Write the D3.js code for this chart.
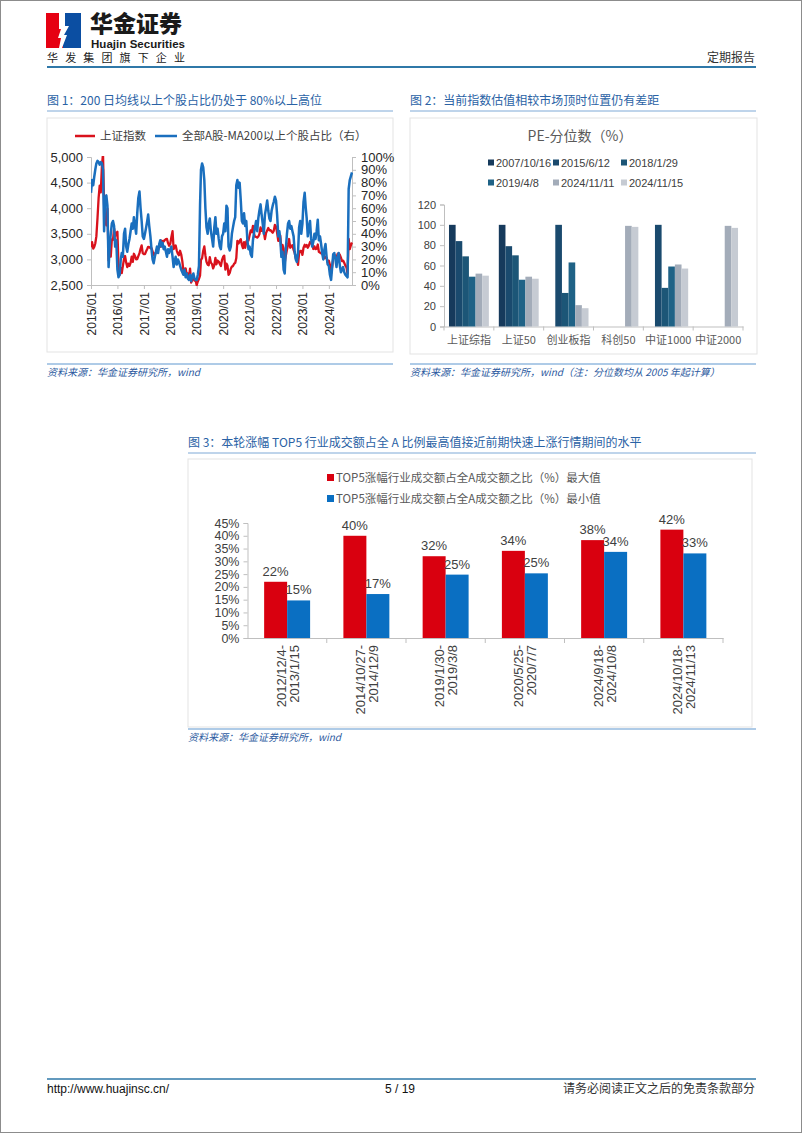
<!DOCTYPE html>
<html><head><meta charset="utf-8">
<script src="https://cdn.jsdelivr.net/npm/d3@7/dist/d3.min.js"></script>
<style>
html,body{margin:0;padding:0;background:#fff;}
svg{display:block;}
</style></head><body>
<svg id="page" width="802" height="1133"></svg>
<script>
// ---------------- DATA ----------------
// Figure 1: semi-monthly samples (1st and 16th of each month) from 2015/01 to 2024/11
const fig1Legend = ["上证指数", "全部A股-MA200以上个股占比（右）"];
const fig1LeftTicks = [2500, 3000, 3500, 4000, 4500, 5000];
const fig1RightTicks = [0, 10, 20, 30, 40, 50, 60, 70, 80, 90, 100];
const fig1YearTicks = [2015, 2016, 2017, 2018, 2019, 2020, 2021, 2022, 2023, 2024];
const shIndex = [
  3235,3336,3210,3247,3310,3449,3810,4195,4441,4308,4829,5062,4053,3823,3664,3993,2980,3152,3053,3391,3383,3606,3456,3516,
  3539,2901,2700,2836,2733,2870,3009,3066,2938,2850,2916,2873,2932,3054,2953,3110,3063,3002,3005,3064,3122,3205,3273,3123,
  3104,3103,3159,3202,3246,3241,3223,3222,3155,3090,3117,3123,3192,3176,3292,3246,3367,3353,3349,3378,3395,3399,3317,3267,
  3307,3437,3550,3199,3259,3270,3168,3110,3082,3169,3095,2966,2775,2814,2824,2705,2725,2651,2821,2546,2603,2679,2588,2594,
  2494,2570,2618,2682,2994,3021,3170,3253,3078,2955,2898,2887,3044,2937,2908,2824,2886,3031,2905,2978,2958,2909,2871,2985,
  3050,3074,2800,2917,2880,2700,2735,2819,2860,2869,2915,2931,3025,3361,3310,3360,3395,3283,3218,3336,3225,3346,3391,3367,
  3473,3566,3533,3655,3509,3446,3441,3426,3447,3490,3624,3557,3589,3539,3397,3517,3567,3613,3568,3573,3545,3521,3562,3675,
  3640,3521,3361,3465,3462,3170,3282,3211,2930,3073,3186,3285,3398,3228,3259,3277,3185,3126,3024,3071,2893,3120,3165,3167,
  3089,3228,3285,3250,3280,3227,3273,3339,3323,3290,3204,3255,3202,3209,3291,3150,3133,3117,3110,3073,3023,3050,3031,2942,
  2975,2894,2730,2866,3015,3054,3077,3007,3105,3120,3087,3033,2968,2976,2932,2880,2842,2720,3400,3200,3280,3330
];
const ma200Share = [
  72,82,78,85,90,95,97,96,94,96,95,90,42,68,70,62,14,30,40,48,50,46,30,35,
  12,6,8,20,25,22,40,44,30,26,32,36,42,48,44,53,46,40,56,68,73,60,50,38,
  36,40,45,50,55,46,38,28,20,17,22,26,30,25,32,35,30,33,28,30,26,22,28,25,
  28,30,22,14,18,22,16,20,18,15,12,10,8,12,6,9,5,4,8,3,7,9,5,4,
  4,8,15,62,90,95,92,82,60,45,40,48,52,42,36,30,45,53,40,44,36,30,28,38,
  40,48,42,62,60,30,27,30,40,45,50,53,78,82,76,80,66,50,48,56,46,50,35,28,
  30,24,22,35,40,45,50,42,52,58,63,55,48,40,55,60,66,58,52,50,58,62,65,69,
  66,55,38,42,36,22,26,12,9,28,40,48,50,44,46,42,38,26,20,18,25,45,50,40,
  48,65,72,60,52,38,45,50,36,30,34,40,36,42,51,35,38,32,25,20,28,32,22,16,
  15,8,4,14,24,25,20,14,22,25,15,10,12,14,10,8,7,6,75,82,85,88
];

// Figure 2: PE percentile
const peCategories = ["上证综指", "上证50", "创业板指", "科创50", "中证1000", "中证2000"];
const peSeries = ["2007/10/16", "2015/6/12", "2018/1/29", "2019/4/8", "2024/11/11", "2024/11/15"];
const pe_20071016 = [100, 100, null, null, null, null];
const pe_20150612 = [84, 79, 100, null, 100, null];
const pe_20180129 = [69, 70, 33, null, 38, null];
const pe_20190408 = [49, 46, 63, null, 59, null];
const pe_20241111 = [52, 49, 21, 99, 61, 99];
const pe_20241115 = [50, 47, 18, 98, 57, 97];
const peTicks = [0, 20, 40, 60, 80, 100, 120];

// Figure 3: TOP5 industries turnover share
const fig3Periods = [["2012/12/4-", "2013/1/15"], ["2014/10/27-", "2014/12/9"], ["2019/1/30-", "2019/3/8"],
                     ["2020/5/25-", "2020/7/7"], ["2024/9/18-", "2024/10/8"], ["2024/10/18-", "2024/11/13"]];
const fig3Legend = ["TOP5涨幅行业成交额占全A成交额之比（%）最大值", "TOP5涨幅行业成交额占全A成交额之比（%）最小值"];
const top5Max = [22.0, 40.0, 32.0, 34.1, 38.3, 42.4];
const top5Min = [14.7, 17.2, 24.8, 25.3, 33.7, 33.1];
const fig3Ticks = [0, 5, 10, 15, 20, 25, 30, 35, 40, 45];

// ---------------- STYLE ----------------
const CJK = '"Noto Sans CJK SC", "Liberation Sans", sans-serif';
const LAT = '"Liberation Sans", Arial, "Noto Sans CJK SC", sans-serif';
const AXIS = "#bfbfbf";
const svg = d3.select("#page");

svg.append("rect").attr("x", 0.5).attr("y", 0.5).attr("width", 801).attr("height", 1132)
  .attr("fill", "#fff").attr("stroke", "#8c8c8c");

// ---------------- HEADER ----------------
const logo = svg.append("g").attr("transform", "translate(46,13)");
logo.append("rect").attr("width", 17).attr("height", 35).attr("fill", "#e60012");
logo.append("rect").attr("x", 17).attr("width", 18).attr("height", 35).attr("fill", "#0b4ea2");
logo.append("path").attr("d", "M13,0 L19,0 L19,13 L23,13 L18,22 L21,22 L16,35 L13,35 L15,25 L12,25 L15,16 L13,16 Z")
  .attr("fill", "#fff");
svg.append("text").attr("x", 90).attr("y", 32).text("华金证券")
  .style("font-family", CJK).style("font-weight", 900).style("font-size", "23px").attr("fill", "#1a1a1a");
svg.append("text").attr("x", 91).attr("y", 48).text("Huajin Securities").attr("textLength", 94)
  .style("font-family", LAT).style("font-weight", "bold").style("font-size", "11.5px").attr("fill", "#1a1a1a");
svg.append("text").attr("x", 47).attr("y", 62).text("华发集团旗下企业").attr("textLength", 138)
  .style("font-family", CJK).style("font-size", "11px").attr("fill", "#1a1a1a");
svg.append("text").attr("x", 755).attr("y", 62).attr("text-anchor", "end").text("定期报告")
  .style("font-family", CJK).style("font-size", "12px").attr("fill", "#333");
svg.append("line").attr("x1", 47).attr("x2", 756).attr("y1", 67).attr("y2", 67)
  .attr("stroke", "#2f78a8").attr("stroke-width", 2);

// figure titles / sources
function figTitle(x, y, x2, txt) {
  svg.append("text").attr("x", x).attr("y", y).text(txt)
    .style("font-family", CJK).style("font-size", "12px").attr("fill", "#2a62a5");
  svg.append("line").attr("x1", x).attr("x2", x2).attr("y1", y + 6).attr("y2", y + 6)
    .attr("stroke", "#7fa9d6").attr("stroke-width", 1);
}
function figSource(x, y, x2, txt) {
  svg.append("line").attr("x1", x).attr("x2", x2).attr("y1", y - 12).attr("y2", y - 12)
    .attr("stroke", "#5e97cf").attr("stroke-width", 1);
  svg.append("text").attr("x", x).attr("y", y).text(txt)
    .style("font-family", CJK).style("font-size", "10px").style("font-style", "italic").attr("fill", "#2c5aa0");
}
figTitle(47, 105, 393, "图 1：200 日均线以上个股占比仍处于 80%以上高位");
figTitle(410, 105, 756, "图 2：当前指数估值相较市场顶时位置仍有差距");
figSource(47, 376, 393, "资料来源：华金证券研究所，wind");
figSource(410, 376, 756, "资料来源：华金证券研究所，wind（注：分位数均从 2005 年起计算）");
figTitle(188, 447, 756, "图 3：本轮涨幅 TOP5 行业成交额占全 A 比例最高值接近前期快速上涨行情期间的水平");
figSource(188, 741, 756, "资料来源：华金证券研究所，wind");

// chart frames
svg.append("rect").attr("x", 47).attr("y", 118).attr("width", 346).attr("height", 234).attr("fill", "none").attr("stroke", "#e3e3e3");
svg.append("rect").attr("x", 410).attr("y", 118).attr("width", 347).attr("height", 236).attr("fill", "none").attr("stroke", "#e3e3e3");
svg.append("rect").attr("x", 188).attr("y", 459).attr("width", 564).attr("height", 268).attr("fill", "none").attr("stroke", "#e3e3e3");

function styleAxis(g) {
  g.selectAll(".domain").attr("stroke", AXIS);
  g.selectAll(".tick line").attr("stroke", AXIS);
}

// ---------------- FIGURE 1 ----------------
const fig1Dates = shIndex.map((_, i) => new Date(2015 + Math.floor(i / 24), Math.floor((i % 24) / 2), i % 2 ? 16 : 1));
const x1 = d3.scaleTime().domain([new Date(2015, 0, 1), new Date(2024, 10, 16)]).range([91, 352]);
const y1L = d3.scaleLinear().domain([2500, 5000]).range([285, 157]);
const y1R = d3.scaleLinear().domain([0, 100]).range([285, 157]);

const gL = svg.append("g").attr("transform", "translate(91,0)")
  .call(d3.axisLeft(y1L).tickValues(fig1LeftTicks).tickFormat(d3.format(",")).tickSize(4).tickPadding(4));
gL.selectAll("text").style("font-family", LAT).style("font-size", "13px").attr("fill", "#262626");
styleAxis(gL);
const gR = svg.append("g").attr("transform", "translate(352,0)")
  .call(d3.axisRight(y1R).tickValues(fig1RightTicks).tickFormat(d => d + "%").tickSize(4).tickPadding(5));
gR.selectAll("text").style("font-family", LAT).style("font-size", "13px").attr("fill", "#262626");
styleAxis(gR);
const gB = svg.append("g").attr("transform", "translate(0,285)")
  .call(d3.axisBottom(x1).tickValues(fig1YearTicks.map(y => new Date(y, 0, 1)))
    .tickFormat(d3.timeFormat("%Y/%m")).tickSize(4).tickSizeOuter(0));
gB.selectAll("text").attr("transform", "rotate(-90)").attr("text-anchor", "end")
  .attr("x", -7).attr("y", 0).attr("dy", "0.35em")
  .style("font-family", LAT).style("font-size", "12px").attr("fill", "#262626");
styleAxis(gB);

svg.append("clipPath").attr("id", "clip1").append("rect").attr("x", 91).attr("y", 156).attr("width", 262).attr("height", 130);
const lineL = d3.line().x((d, i) => x1(fig1Dates[i])).y(d => y1L(d));
const lineR = d3.line().x((d, i) => x1(fig1Dates[i])).y(d => y1R(d));
svg.append("path").datum(shIndex).attr("d", lineL).attr("fill", "none").attr("stroke", "#d9121c")
  .attr("stroke-width", 2.3).attr("stroke-linejoin", "round").attr("clip-path", "url(#clip1)");
svg.append("path").datum(ma200Share).attr("d", lineR).attr("fill", "none").attr("stroke", "#1a6fbe")
  .attr("stroke-width", 2.5).attr("stroke-linejoin", "round").attr("clip-path", "url(#clip1)");

const lg1 = svg.append("g");
[[75, 95, 100, "#d9121c"], [155, 177, 182, "#1a6fbe"]].forEach((p, i) => {
  lg1.append("line").attr("x1", p[0]).attr("x2", p[1]).attr("y1", 136).attr("y2", 136)
    .attr("stroke", p[3]).attr("stroke-width", 2.5);
  lg1.append("text").attr("x", p[2]).attr("y", 140).text(fig1Legend[i])
    .style("font-family", CJK).style("font-size", "11.5px").attr("fill", "#404040");
});

// ---------------- FIGURE 2 ----------------
const peColors = ["#163a5c", "#1a4a6e", "#1c5677", "#1f6286", "#a3acb9", "#c6cbd3"];
const peValues = [pe_20071016, pe_20150612, pe_20180129, pe_20190408, pe_20241111, pe_20241115];
const x2 = d3.scaleBand().domain(peCategories).range([444, 743]);
const bw2 = x2.bandwidth();
const x2s = d3.scaleBand().domain(peSeries).range([bw2 * 0.1, bw2 * 0.9]);
const y2 = d3.scaleLinear().domain([0, 120]).range([326.5, 204.5]);

svg.append("text").attr("x", 580).attr("y", 141).attr("text-anchor", "middle").text("PE-分位数（%）")
  .style("font-family", CJK).style("font-size", "14px").attr("fill", "#595959");
const lg2 = svg.append("g");
peSeries.forEach((s, i) => {
  const col = i % 3, row = Math.floor(i / 3);
  const lx = [488, 553, 621][col], ly = 163 + row * 20;
  lg2.append("rect").attr("x", lx).attr("y", ly - 3.5).attr("width", 6).attr("height", 6).attr("fill", peColors[i]);
  lg2.append("text").attr("x", lx + 8).attr("y", ly + 4).text(s)
    .style("font-family", LAT).style("font-size", "11px").attr("fill", "#404040");
});

const g2L = svg.append("g").attr("transform", "translate(444,0)")
  .call(d3.axisLeft(y2).tickValues(peTicks).tickSize(4).tickPadding(4));
g2L.selectAll("text").style("font-family", LAT).style("font-size", "11px").attr("fill", "#404040");
styleAxis(g2L);
const g2B = svg.append("g").attr("transform", "translate(0,326.5)")
  .call(d3.axisBottom(x2).tickSize(0).tickPadding(10));
g2B.selectAll("text").style("font-family", CJK).style("font-size", "11px").attr("fill", "#595959");
styleAxis(g2B);
const bounds2 = peCategories.map(c => x2(c)).concat([x2.range()[1]]);
g2B.selectAll(".boundary").data(bounds2).enter().append("line")
  .attr("x1", d => d).attr("x2", d => d).attr("y1", 0).attr("y2", 4).attr("stroke", AXIS);

peSeries.forEach((s, si) => {
  const rows = peValues[si].map((v, i) => ({ cat: peCategories[i], v: v })).filter(d => d.v != null);
  svg.append("g").selectAll("rect").data(rows).enter().append("rect")
    .attr("x", d => x2(d.cat) + x2s(s))
    .attr("width", x2s.bandwidth())
    .attr("y", d => y2(d.v)).attr("height", d => y2(0) - y2(d.v))
    .attr("fill", peColors[si]);
});

// ---------------- FIGURE 3 ----------------
const periodKeys = fig3Periods.map(p => p.join(""));
const x3 = d3.scaleBand().domain(periodKeys).range([247.5, 723]);
const bw3 = x3.bandwidth();
const x3s = d3.scaleBand().domain(["max", "min"]).range([bw3 * 0.21, bw3 * 0.79]);
const y3 = d3.scaleLinear().domain([0, 45]).range([638, 523]);
const c3 = { max: "#d9000f", min: "#0a6fc2" };

const lg3 = svg.append("g");
fig3Legend.forEach((t, i) => {
  const ly = 478 + i * 21;
  lg3.append("rect").attr("x", 327).attr("y", ly - 4).attr("width", 7).attr("height", 7).attr("fill", i ? c3.min : c3.max);
  lg3.append("text").attr("x", 336).attr("y", ly + 4).text(t)
    .style("font-family", CJK).style("font-size", "11.5px").attr("fill", "#595959");
});

const g3L = svg.append("g").attr("transform", "translate(247.5,0)")
  .call(d3.axisLeft(y3).tickValues(fig3Ticks).tickFormat(d => d + "%").tickSize(4).tickPadding(4));
g3L.selectAll("text").style("font-family", LAT).style("font-size", "12.5px").attr("fill", "#404040");
styleAxis(g3L);
const g3B = svg.append("g").attr("transform", "translate(0,638)")
  .call(d3.axisBottom(x3).tickSize(0).tickFormat(""));
styleAxis(g3B);
g3B.selectAll(".boundary").data(periodKeys).enter().append("line")
  .attr("x1", d => x3(d) + bw3).attr("x2", d => x3(d) + bw3)
  .attr("y1", 0).attr("y2", 5).attr("stroke", AXIS);
fig3Periods.forEach((p, i) => {
  const cx = x3(periodKeys[i]) + bw3 / 2;
  p.forEach((line, li) => {
    svg.append("text").attr("transform", `translate(${cx + (li ? 7 : -6)},645) rotate(-90)`)
      .attr("text-anchor", "end").attr("dy", "0.35em").text(line)
      .style("font-family", LAT).style("font-size", "13px").attr("fill", "#404040");
  });
});

[["max", top5Max], ["min", top5Min]].forEach(([k, vals]) => {
  const g = svg.append("g");
  g.selectAll("rect").data(vals).enter().append("rect")
    .attr("x", (d, i) => x3(periodKeys[i]) + x3s(k)).attr("width", x3s.bandwidth())
    .attr("y", d => y3(d)).attr("height", d => y3(0) - y3(d)).attr("fill", c3[k]);
  g.selectAll("text").data(vals).enter().append("text")
    .attr("x", (d, i) => x3(periodKeys[i]) + x3s(k) + x3s.bandwidth() / 2)
    .attr("y", d => y3(d) - 6).attr("text-anchor", "middle")
    .text(d => Math.round(d) + "%")
    .style("font-family", LAT).style("font-size", "13px").attr("fill", "#404040");
});

// ---------------- FOOTER ----------------
svg.append("line").attr("x1", 47).attr("x2", 756).attr("y1", 1079).attr("y2", 1079)
  .attr("stroke", "#2f78a8").attr("stroke-width", 1.5);
svg.append("text").attr("x", 47).attr("y", 1093).text("http://www.huajinsc.cn/")
  .style("font-family", LAT).style("font-size", "12px").attr("fill", "#111");
svg.append("text").attr("x", 400).attr("y", 1093).attr("text-anchor", "middle").text("5 / 19")
  .style("font-family", LAT).style("font-size", "12px").attr("fill", "#111");
svg.append("text").attr("x", 755).attr("y", 1093).attr("text-anchor", "end").text("请务必阅读正文之后的免责条款部分")
  .style("font-family", CJK).style("font-size", "12px").attr("fill", "#333");
</script>
</body></html>
